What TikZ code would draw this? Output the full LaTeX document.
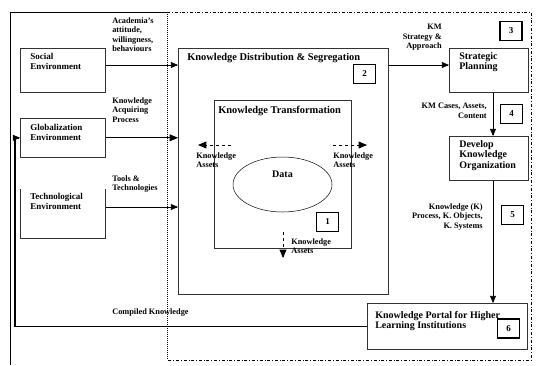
\documentclass[tikz,border=0pt]{standalone}
\usepackage{fontspec}
\setmainfont{Liberation Serif}
\usepackage{tikz}
\usetikzlibrary{shapes.geometric, arrows}
\usetikzlibrary{calc}

\begin{document}
\begin{tikzpicture}[x=1pt, y=-1pt, line width=0.6pt,
  box/.style={draw=black!80, minimum width=#1, anchor=north west, inner sep=0pt},
  envtext/.style={anchor=north west, align=left, inner sep=0pt, font=\fontsize{9}{10}\selectfont\bfseries},
  boxtext/.style={anchor=north west, align=left, inner sep=0pt, font=\fontsize{10}{10.5}\selectfont\bfseries},
  titletext/.style={anchor=north west, inner sep=0pt, font=\fontsize{10.4}{12}\selectfont\bfseries},
  lbl/.style={inner sep=0pt, font=\fontsize{8.3}{9.6}\selectfont\bfseries},
  numbox/.style={draw, line width=1.3pt, minimum width=22pt, minimum height=19pt, inner sep=0pt, font=\fontsize{9}{10}\selectfont\bfseries},
  arr/.style={-triangle 45},
  dasharr/.style={dashed, line width=0.9pt, -triangle 45}]

\useasboundingbox (0,0) rectangle (537,365);

% frames
\draw (10,365) -- (10,12) -- (167,12);
\draw [dash dot, line width=0.8pt] (167,12) -- (531,12) -- (531,360) -- (167,360);
\draw [densely dotted, line width=1pt] (167,12) -- (167,360);

% environment boxes
\node (social) [box=85pt, minimum height=44pt] at (20,48) {};
\node (global) [box=85pt, minimum height=39pt] at (20,118) {};
\node (tech) [box=85pt, minimum height=49pt, draw=none] at (20,189) {};
\draw [draw=black!80] (tech.north west) -- (tech.south west) -- (tech.south east) -- (tech.north east);
\node [envtext] at (30,53) {Social\\Environment};
\node [envtext] at (30,124) {Globalization\\Environment};
\node [envtext] at (30,193) {Technological\\Environment};

% knowledge boxes
\node (distrib) [box=210pt, minimum height=246pt] at (178,48) {};
\node [titletext] at (187,53) {Knowledge Distribution \& Segregation};
\node (transf) [box=137pt, minimum height=148pt] at (214,100) {};
\node [titletext] at (218,106) {Knowledge Transformation};
\node (data) [draw, ellipse, line width=0.5pt, minimum width=99pt, minimum height=55pt, inner sep=0pt] at (282.5,184.5) {};
\node [boxtext, anchor=center] at (282.5,174) {Data};

\node (strat) [box=79pt, minimum height=44pt] at (449,48) {};
\node [boxtext] at (459,52) {Strategic\\Planning};
\node (devorg) [box=79pt, minimum height=44pt] at (449,136) {};
\node [boxtext] at (459,140) {Develop\\Knowledge\\Organization};
\node (portal) [box=160pt, minimum height=46pt] at (367,303) {};
\node [boxtext] at (375,311) {Knowledge Portal for Higher\\Learning Institutions};

% numbers
\node (n1) [numbox] at (327.5,222) {1};
\node (n2) [numbox] at (364.5,74) {2};
\node (n3) [numbox] at (511,31) {3};
\node (n4) [numbox] at (511.5,114) {4};
\node (n5) [numbox] at (512.5,215) {5};
\node (n6) [numbox] at (508.5,328.5) {6};

% labels
\node [lbl, anchor=north west, align=left] at (112,17) {Academia's\\attitude,\\willingness,\\behaviours};
\node [lbl, anchor=north west, align=left] at (112,97) {Knowledge\\Acquiring\\Process};
\node [lbl, anchor=north west, align=left] at (112,175) {Tools \&\\Technologies};
\node [lbl, anchor=north west] at (112,308) {Compiled Knowledge};
\node [lbl, anchor=north east, align=right] at (442,24) {KM\\Strategy \&\\Approach};
\node [lbl, anchor=north east, align=right] at (487,103) {KM Cases, Assets,\\Content};
\node [lbl, anchor=north east, align=right] at (483,203) {Knowledge (K)\\Process, K. Objects,\\K. Systems};
\node [lbl, anchor=north west, align=left] at (196,152) {Knowledge\\Assets};
\node [lbl, anchor=north west, align=left] at (333,152) {Knowledge\\Assets};
\node [lbl, anchor=north west, align=left] at (291,238) {Knowledge\\Assets};

% connectors
\draw [arr] (social.east |- 0,65) -- (distrib.west |- 0,65);
\draw [arr, line width=0.9pt] (global.east) -- (global.east -| distrib.west);
\draw [arr] (tech.east |- 0,207) -- (distrib.west |- 0,207);
\draw [arr] (distrib.east |- 0,65) -- (strat.west |- 0,65);
\draw [arr] (strat.south -| 493,0) -- (devorg.north -| 493,0);
\draw [arr] (devorg.south -| 493,0) -- (portal.north -| 493,0);
\coordinate (corner) at (15,0);
\draw [line width=1.6pt] (portal.west) -- (portal.west -| corner) |- ([xshift=-3pt]global.west);
\draw [arr] ([xshift=-4pt]global.west) -- (global.west);

% dashed flows
\coordinate (la) at (231,145);
\coordinate (lb) at (198,145);
\coordinate (ra) at (333,145);
\coordinate (rb) at (367,145);
\coordinate (da) at (283,232);
\coordinate (db) at (283,258);
\draw [dasharr] (la) -- (lb);
\draw [dasharr] (ra) -- (rb);
\draw [dasharr] (da) -- (db);

\end{tikzpicture}
\end{document}
